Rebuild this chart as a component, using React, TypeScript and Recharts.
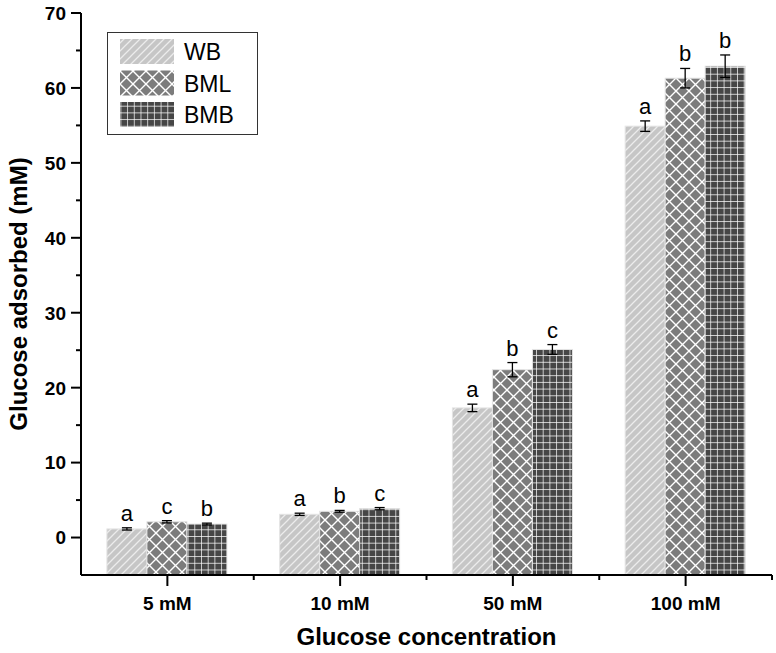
import React from "react";
import { BarChart, Bar, XAxis, YAxis, ErrorBar, LabelList, Legend, Label } from "recharts";

const CATEGORIES = ["5 mM", "10 mM", "50 mM", "100 mM"];
const SERIES = ["WB", "BML", "BMB"];

const WB = [1.15, 3.1, 17.3, 54.9];
const WB_ERR = [0.15, 0.15, 0.5, 0.7];
const WB_LETTERS = ["a", "a", "a", "a"];

const BML = [2.1, 3.5, 22.4, 61.3];
const BML_ERR = [0.15, 0.12, 0.95, 1.3];
const BML_LETTERS = ["c", "b", "b", "b"];

const BMB = [1.8, 3.85, 25.1, 62.9];
const BMB_ERR = [0.12, 0.15, 0.65, 1.5];
const BMB_LETTERS = ["b", "c", "c", "b"];

const Y_MIN = -5;
const Y_MAX = 70;
const Y_TICKS = [-5, 0, 5, 10, 15, 20, 25, 30, 35, 40, 45, 50, 55, 60, 65, 70];

const data = CATEGORIES.map((name, i) => ({
  name,
  WB: WB[i], WB_err: WB_ERR[i], WB_letter: WB_LETTERS[i],
  BML: BML[i], BML_err: BML_ERR[i], BML_letter: BML_LETTERS[i],
  BMB: BMB[i], BMB_err: BMB_ERR[i], BMB_letter: BMB_LETTERS[i],
}));

const FONT = "'Liberation Sans', Arial, Helvetica, sans-serif";
const FILLS: Record<string, string> = { WB: "url(#pat-wb)", BML: "url(#pat-bml)", BMB: "url(#pat-bmb)" };

function Patterns() {
  return (
    <svg width={0} height={0} style={{ position: "absolute" }}>
      <defs>
        <pattern id="pat-wb" patternUnits="userSpaceOnUse" width={8} height={8}>
          <rect width={8} height={8} fill="#c6c6c6" />
          <path d="M-2,2 L2,-2 M0,8 L8,0 M6,10 L10,6" stroke="#ececec" strokeWidth={1.3} />
        </pattern>
        <pattern id="pat-bml" patternUnits="userSpaceOnUse" width={13} height={13}>
          <rect width={13} height={13} fill="#7c7c7c" />
          <path d="M0,0 L13,13 M13,0 L0,13" stroke="#ffffff" strokeWidth={1.4} />
        </pattern>
        <pattern id="pat-bmb" patternUnits="userSpaceOnUse" width={6.7} height={6.7}>
          <rect width={6.7} height={6.7} fill="#464646" />
          <path d="M0,0 L6.7,0 M0,0 L0,6.7" stroke="#ffffff" strokeWidth={1.4} />
        </pattern>
      </defs>
    </svg>
  );
}

// bars run down to the bottom of the plot (the -5 line), like the original
function FullBar(props: any) {
  const { x, y, width, height, fill, background } = props;
  const bottom = background ? background.y + background.height : y + height;
  return <rect x={x} y={y} width={width} height={Math.max(0, bottom - y)} fill={fill} stroke="#e4e4e4" strokeWidth={1} />;
}

function YTick(props: any) {
  const { x, y, payload } = props;
  const v = payload.value;
  if (v < 0) return null;
  const major = v % 10 === 0;
  return (
    <g>
      <line x1={x} x2={x - (major ? 10 : 5)} y1={y} y2={y} stroke="#000" strokeWidth={2} />
      {major && (
        <text x={x - 15} y={y} dy="0.36em" textAnchor="end" fontFamily={FONT} fontWeight="bold" fontSize={19} fill="#000">
          {v}
        </text>
      )}
    </g>
  );
}

function XTick(props: any) {
  const { x, y, payload } = props;
  const half = payload.offset || 86.4;
  return (
    <g>
      <line x1={x} x2={x} y1={y} y2={y + 11} stroke="#000" strokeWidth={2} />
      <line x1={x + half} x2={x + half} y1={y} y2={y + 5} stroke="#000" strokeWidth={2} />
      <text x={x} y={y + 35} textAnchor="middle" fontFamily={FONT} fontWeight="bold" fontSize={19} fill="#000">
        {payload.value}
      </text>
    </g>
  );
}

function letterRenderer(key: string) {
  return (p: any) => {
    const { x, y, width, height, index } = p;
    const row: any = data[index];
    const pxPerUnit = Math.abs(height) / row[key];
    const top = y - row[key + "_err"] * pxPerUnit;
    return (
      <text x={x + width / 2} y={top - 7} textAnchor="middle" fontFamily={FONT} fontSize={22} fill="#000">
        {row[key + "_letter"]}
      </text>
    );
  };
}

function LegendBox() {
  const rows = [39, 70.5, 102];
  return (
    <svg width={151} height={103}>
      <rect x={0.5} y={0.5} width={150} height={102} fill="#fff" stroke="#333" strokeWidth={1} />
      {SERIES.map((s, i) => (
        <g key={s}>
          <rect x={13} y={rows[i] - 32} width={54} height={25} fill={FILLS[s]} />
          <text x={77} y={rows[i] - 32 + 21} fontFamily={FONT} fontSize={23} fill="#000">
            {s}
          </text>
        </g>
      ))}
    </svg>
  );
}

export default function App() {
  return (
    <div style={{ position: "absolute", left: 0, top: 0, width: 776, height: 653, background: "#fff" }}>
      <Patterns />
      <BarChart
        width={776}
        height={653}
        data={data}
        margin={{ top: 13, right: 4, bottom: 0, left: 0 }}
        barCategoryGap="15%"
        barGap={0}
      >
        <XAxis
          dataKey="name"
          height={78}
          tickSize={0}
          tickMargin={0}
          tick={<XTick />}
          axisLine={{ stroke: "#000", strokeWidth: 2 }}
          tickLine={false}
          interval={0}
        >
          <Label
            content={(p: any) => {
              const vb = p.viewBox;
              return (
                <text x={vb.x + vb.width / 2} y={vb.y + 70} textAnchor="middle" fontFamily={FONT} fontWeight="bold" fontSize={24} fill="#000">
                  Glucose concentration
                </text>
              );
            }}
          />
        </XAxis>
        <YAxis
          width={81}
          domain={[Y_MIN, Y_MAX]}
          ticks={Y_TICKS}
          type="number"
          tickSize={0}
          tickMargin={0}
          tick={<YTick />}
          axisLine={{ stroke: "#000", strokeWidth: 2 }}
          tickLine={false}
          interval={0}
          allowDataOverflow
        >
          <Label
            content={(p: any) => {
              const vb = p.viewBox;
              const cx = 18;
              const cy = vb.y + vb.height / 2;
              return (
                <text x={cx} y={cy} transform={`rotate(-90 ${cx} ${cy})`} textAnchor="middle" dy="0.36em" fontFamily={FONT} fontWeight="bold" fontSize={24} fill="#000">
                  Glucose adsorbed (mM)
                </text>
              );
            }}
          />
        </YAxis>
        <Legend
          layout="vertical"
          align="center"
          verticalAlign="middle"
          content={() => <LegendBox />}
          wrapperStyle={{ left: 107, top: 32, width: 151, height: 103 }}
        />
        {SERIES.map((s) => (
          <Bar key={s} dataKey={s} fill={FILLS[s]} shape={<FullBar />} isAnimationActive={false}>
            <ErrorBar dataKey={s + "_err"} width={5} stroke="#000" strokeWidth={1.3} direction="y" isAnimationActive={false} />
            <LabelList dataKey={s + "_letter"} content={letterRenderer(s)} />
          </Bar>
        ))}
      </BarChart>
    </div>
  );
}
